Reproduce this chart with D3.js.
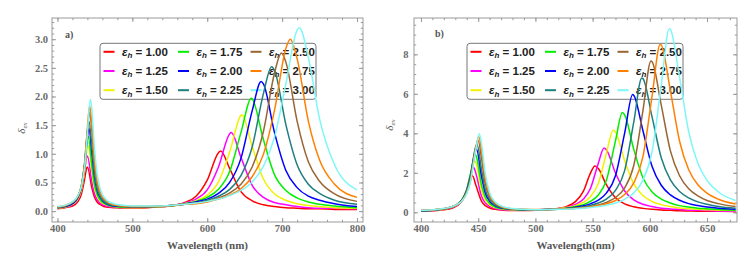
<!doctype html>
<html lang="en">
<head>
  <meta charset="utf-8">
  <title>Extinction spectra for different host permittivities</title>
  <style>
    body { margin: 0; background: #fff; }
  </style>
</head>
<body>
  <script src="https://cdn.jsdelivr.net/npm/d3@7"></script>
  <script>
    // Legend entries and line colours (same for both panels)
    const epsLabels = ['1.00', '1.25', '1.50', '1.75', '2.00', '2.25', '2.50', '2.75', '3.00'];
    const colors = ['#ff0000', '#ff00ff', '#f2f200', '#00ee00', '#0000ff', '#1f7f7f', '#996633', '#ff8000', '#7ff7f7'];

    // Panel a) : wavelength grid (nm) and values
    const wlA = [400, 410, 420, 427, 432, 436, 439, 446, 449, 453, 458, 465, 475, 490, 510, 530, 550, 570,
                 585, 600, 615, 630, 645, 660, 675, 690, 705, 720, 735, 750, 770, 800];
    const aRed     = [.04, .06, .09, .16, .30, .54, .75, .40, .26, .16, .11, .07, .06, .05, .05, .07, .09, .15, .26, .54, 1.02, .74, .34, .18, .11, .08, .06, .05, .04, .04, .03, .03];
    const aMagenta = [.05, .07, .11, .20, .37, .68, .94, .50, .32, .20, .13, .09, .07, .06, .06, .07, .09, .14, .21, .37, .77, 1.35, .94, .45, .24, .15, .11, .08, .06, .05, .05, .04];
    const aYellow  = [.05, .07, .12, .21, .37, .68, 1.03, .69, .43, .26, .16, .11, .08, .06, .06, .07, .09, .13, .18, .28, .51, 1.03, 1.67, 1.13, .56, .30, .19, .13, .10, .08, .06, .05];
    const aGreen   = [.06, .08, .13, .23, .43, .78, 1.17, .78, .49, .29, .18, .12, .08, .07, .07, .08, .09, .13, .17, .24, .38, .69, 1.37, 1.96, 1.25, .63, .36, .23, .16, .12, .09, .06];
    const aBlue    = [.06, .08, .13, .23, .41, .74, 1.16, 1.01, .64, .36, .22, .13, .09, .08, .07, .08, .10, .12, .16, .21, .31, .50, .92, 1.75, 2.22, 1.36, .71, .41, .26, .19, .13, .08];
    const aTeal    = [.07, .09, .15, .25, .45, .81, 1.27, 1.10, .69, .39, .23, .14, .10, .08, .07, .08, .10, .12, .14, .19, .26, .38, .62, 1.12, 2.05, 2.45, 1.51, .81, .47, .31, .19, .12];
    const aBrown   = [.07, .09, .15, .25, .43, .76, 1.21, 1.39, .89, .49, .28, .17, .11, .08, .08, .08, .09, .12, .14, .17, .23, .32, .47, .77, 1.39, 2.42, 2.60, 1.57, .86, .52, .30, .17];
    const aOrange  = [.07, .10, .16, .26, .45, .80, 1.28, 1.48, .94, .52, .30, .18, .11, .09, .08, .08, .10, .12, .13, .16, .21, .28, .39, .60, .99, 1.77, 2.84, 2.66, 1.57, .89, .47, .24];
    const aCyan    = [.08, .10, .16, .26, .43, .73, 1.17, 1.76, 1.17, .64, .35, .20, .13, .10, .09, .09, .10, .12, .14, .17, .21, .27, .36, .51, .78, 1.30, 2.22, 3.16, 2.68, 1.61, .81, .37];
    // peak positions / heights of each curve in panel a)
    const aPeak1Wl  = [440, 440, 441, 441, 442, 442, 443, 443, 444];
    const aPeak1Val = [.77, .96, 1.14, 1.30, 1.44, 1.57, 1.72, 1.84, 1.95];
    const aPeak2Wl  = [618, 632, 646, 659, 672, 686, 699, 711, 723];
    const aPeak2Val = [1.05, 1.37, 1.68, 1.97, 2.26, 2.52, 2.76, 3.00, 3.20];

    // Panel b)
    const wlB = [400, 410, 420, 427, 432, 436, 440, 443, 448, 453, 456, 460, 465, 472, 480, 490, 500, 510, 520,
                 527, 535, 542, 548, 555, 562, 570, 578, 586, 594, 602, 610, 618, 626, 634, 642, 650, 660, 675];
    const bRed     = [.06, .08, .13, .21, .35, .59, 1.10, 1.67, 1.37, .55, .35, .22, .15, .11, .09, .09, .10, .13, .20, .29, .54, 1.07, 1.97, 2.22, 1.40, .74, .43, .28, .20, .15, .12, .10, .08, .07, .06, .06, .05, .04];
    const bMagenta = [.07, .09, .15, .24, .38, .63, 1.16, 1.83, 1.97, .80, .49, .30, .19, .13, .11, .10, .11, .13, .19, .25, .40, .67, 1.19, 2.49, 3.17, 1.99, 1.08, .63, .41, .29, .21, .17, .14, .11, .10, .09, .07, .06];
    const bYellow  = [.07, .10, .16, .25, .39, .63, 1.12, 1.81, 2.50, 1.09, .65, .38, .24, .16, .13, .11, .12, .14, .19, .24, .34, .51, .79, 1.46, 2.98, 4.06, 2.62, 1.44, .85, .55, .39, .29, .22, .18, .15, .13, .11, .09];
    const bGreen   = [.08, .11, .17, .27, .42, .66, 1.16, 1.88, 2.89, 1.35, .79, .45, .27, .18, .14, .12, .12, .14, .17, .21, .29, .39, .55, .88, 1.61, 3.62, 4.94, 3.18, 1.75, 1.03, .67, .47, .34, .27, .21, .18, .14, .11];
    const bBlue    = [.08, .11, .18, .27, .41, .64, 1.09, 1.76, 3.18, 1.79, 1.02, .56, .33, .20, .15, .13, .13, .15, .17, .20, .26, .33, .43, .62, .97, 1.85, 4.01, 5.92, 4.13, 2.32, 1.37, .88, .61, .44, .34, .27, .21, .16];
    const bTeal    = [.09, .12, .18, .28, .42, .64, 1.09, 1.75, 3.35, 2.12, 1.20, .64, .36, .22, .16, .13, .13, .14, .16, .19, .23, .28, .35, .47, .67, 1.11, 2.11, 4.58, 6.77, 4.82, 2.76, 1.64, 1.05, .73, .53, .41, .30, .21];
    const bBrown   = [.09, .12, .18, .27, .41, .60, 1.00, 1.57, 3.28, 2.69, 1.53, .78, .42, .24, .17, .14, .13, .14, .15, .17, .20, .24, .29, .37, .50, .75, 1.24, 2.38, 5.15, 7.62, 5.43, 3.11, 1.85, 1.19, .83, .60, .44, .29];
    const bOrange  = [.10, .13, .19, .28, .41, .60, .99, 1.53, 3.28, 3.08, 1.77, .88, .47, .26, .18, .15, .14, .14, .16, .17, .20, .23, .27, .34, .43, .60, .90, 1.49, 2.82, 5.90, 8.47, 6.15, 3.60, 2.16, 1.40, .97, .66, .42];
    const bCyan    = [.10, .13, .19, .28, .41, .59, .95, 1.47, 3.20, 3.44, 2.02, .99, .51, .28, .19, .15, .13, .14, .15, .16, .18, .21, .24, .29, .36, .47, .66, .98, 1.63, 3.08, 6.45, 9.26, 6.84, 4.08, 2.48, 1.61, 1.03, .60];
    const bPeak1Wl  = [445, 446, 447, 447.5, 448.5, 449, 450, 450.5, 451];
    const bPeak1Val = [1.85, 2.28, 2.60, 2.92, 3.20, 3.44, 3.64, 3.84, 3.98];
    const bPeak2Wl  = [552, 560, 568, 576, 585, 593, 601, 609, 617];
    const bPeak2Val = [2.35, 3.26, 4.16, 5.06, 5.96, 6.80, 7.66, 8.50, 9.30];

    const aSeries = [aRed, aMagenta, aYellow, aGreen, aBlue, aTeal, aBrown, aOrange, aCyan];
    const bSeries = [bRed, bMagenta, bYellow, bGreen, bBlue, bTeal, bBrown, bOrange, bCyan];

    // merge the grid values with the two peak points of each curve
    function buildCurves(wl, series, p1w, p1v, p2w, p2v) {
      return series.map((vals, i) => {
        const pts = wl.map((w, j) => [w, vals[j]]);
        pts.push([p1w[i], p1v[i]], [p2w[i], p2v[i]]);
        return pts.sort((a, b) => a[0] - b[0]);
      });
    }

    const w = 754;
    const h = 264;
    const serif = "'Liberation Serif', 'DejaVu Serif', serif";
    const sans = "'Liberation Sans', Arial, sans-serif";

    const svg = d3.select('body')
                  .append('svg')
                  .attr('width', w)
                  .attr('height', h)
                  .style('display', 'block');

    const panels = [
      {
        id: 'a', tag: 'a)', tagX: 65, tagY: 38,
        x: d3.scaleLinear().domain([392.7, 808]).range([52, 363]),
        y: d3.scaleLinear().domain([-0.19, 3.37]).range([222, 18]),
        xMajor: d3.range(400, 801, 100), xMinor: d3.range(400, 801, 20),
        yMajor: d3.range(0, 3.01, 0.5), yMinor: d3.range(-0.1, 3.35, 0.1),
        yFmt: d3.format('.1f'), yPad: 4,
        xTitle: 'Wavelength (nm)', yTitleX: 25, yTitleY: 128,
        legendX: 100,
        curves: buildCurves(wlA, aSeries, aPeak1Wl, aPeak1Val, aPeak2Wl, aPeak2Val)
      },
      {
        id: 'b', tag: 'b)', tagX: 435, tagY: 37,
        x: d3.scaleLinear().domain([393.9, 676.2]).range([414, 737]),
        y: d3.scaleLinear().domain([-0.49, 9.84]).range([222, 18]),
        xMajor: d3.range(400, 651, 50), xMinor: d3.range(400, 676, 10),
        yMajor: d3.range(0, 8.1, 2), yMinor: d3.range(0, 9.8, 0.5),
        yFmt: d3.format('d'), yPad: 5.5,
        xTitle: 'Wavelength(nm)', yTitleX: 393, yTitleY: 125,
        legendX: 467,
        curves: buildCurves(wlB, bSeries, bPeak1Wl, bPeak1Val, bPeak2Wl, bPeak2Val)
      }
    ];

    panels.forEach((p) => {
      const [x0, x1] = p.x.range();
      const [y1, y0] = p.y.range();
      const g = svg.append('g').attr('id', 'panel-' + p.id);

      // Frame
      g.append('rect')
       .attr('x', x0).attr('y', y0)
       .attr('width', x1 - x0).attr('height', y1 - y0)
       .attr('fill', '#fff')
       .attr('stroke', '#9a9a9a')
       .attr('stroke-width', 1);

      // Ticks on all four sides, pointing inwards
      const tickAxis = (axis, tr, size, vals, fmt) => {
        const a = g.append('g')
                   .attr('transform', tr)
                   .call(axis.tickValues(vals).tickSize(size).tickPadding(3).tickFormat(fmt));
        a.select('.domain').remove();
        a.selectAll('line').attr('stroke', '#9a9a9a');
        return a;
      };
      const none = () => '';
      const xb = tickAxis(d3.axisBottom(p.x), `translate(0,${y1})`, -4, p.xMajor, d3.format('d'));
      tickAxis(d3.axisBottom(p.x), `translate(0,${y1})`, -2.2, p.xMinor, none);
      tickAxis(d3.axisTop(p.x), `translate(0,${y0})`, -4, p.xMajor, none);
      tickAxis(d3.axisTop(p.x), `translate(0,${y0})`, -2.2, p.xMinor, none);
      const yl = tickAxis(d3.axisLeft(p.y), `translate(${x0},0)`, -4, p.yMajor, p.yFmt);
      tickAxis(d3.axisLeft(p.y), `translate(${x0},0)`, -2.2, p.yMinor, none);
      tickAxis(d3.axisRight(p.y), `translate(${x1},0)`, -4, p.yMajor, none);
      tickAxis(d3.axisRight(p.y), `translate(${x1},0)`, -2.2, p.yMinor, none);
      yl.selectAll('text').attr('x', -p.yPad);

      [xb, yl].forEach((a) => a.selectAll('text')
                                .attr('font-family', serif)
                                .attr('font-size', 10.5)
                                .attr('font-weight', 'bold')
                                .attr('fill', '#6a6a6a'));

      // Axis titles
      g.append('text')
       .attr('x', (x0 + x1) / 2).attr('y', 249)
       .attr('text-anchor', 'middle')
       .attr('font-family', serif).attr('font-size', 11).attr('font-weight', 'bold')
       .attr('fill', '#555')
       .text(p.xTitle);

      const yt = g.append('text')
                  .attr('transform', `translate(${p.yTitleX},${p.yTitleY}) rotate(-90)`)
                  .attr('text-anchor', 'middle')
                  .attr('font-family', serif).attr('font-size', 11).attr('font-style', 'italic')
                  .attr('fill', '#555');
      yt.append('tspan').text('δ');
      yt.append('tspan').attr('font-size', 7).attr('dy', 2).text('ex');

      // Panel tag
      g.append('text')
       .attr('x', p.tagX).attr('y', p.tagY)
       .attr('font-family', serif).attr('font-size', 10).attr('font-weight', 'bold')
       .attr('fill', '#555')
       .text(p.tag);

      // Legend box (drawn under the curves, as in the figure)
      const lg = g.append('g').attr('transform', `translate(${p.legendX},43.3)`);
      lg.append('rect')
        .attr('width', 216).attr('height', 56)
        .attr('rx', 3)
        .attr('fill', '#fff')
        .attr('stroke', '#777')
        .attr('stroke-width', 1);
      const colX = [3.5, 78, 150.5];
      epsLabels.forEach((lab, i) => {
        const cx = colX[Math.floor(i / 3)];
        const cy = 8.5 + (i % 3) * 19.2;
        lg.append('line')
          .attr('x1', cx).attr('x2', cx + 11)
          .attr('y1', cy).attr('y2', cy)
          .attr('stroke', colors[i]).attr('stroke-width', 2);
        const t = lg.append('text')
                    .attr('x', cx + 18.5).attr('y', cy + 4)
                    .attr('font-family', sans).attr('font-size', 11.5).attr('font-weight', 'bold')
                    .attr('fill', '#222');
        t.append('tspan').attr('font-style', 'italic').text('ε');
        t.append('tspan').attr('font-style', 'italic').attr('font-size', 8).attr('dy', 2.5).text('h');
        t.append('tspan').attr('dy', -2.5).text(' = ' + lab);
      });

      // Curves
      const line = d3.line()
                     .x((d) => p.x(d[0]))
                     .y((d) => p.y(d[1]))
                     .curve(d3.curveMonotoneX);

      g.append('clipPath').attr('id', 'clip-' + p.id)
       .append('rect')
       .attr('x', x0).attr('y', y0).attr('width', x1 - x0).attr('height', y1 - y0);

      g.append('g')
       .attr('clip-path', `url(#clip-${p.id})`)
       .selectAll('path')
       .data(p.curves)
       .enter()
       .append('path')
       .attr('d', line)
       .attr('fill', 'none')
       .attr('stroke', (d, i) => colors[i])
       .attr('stroke-width', 1.5);
    });
  </script>
</body>
</html>
